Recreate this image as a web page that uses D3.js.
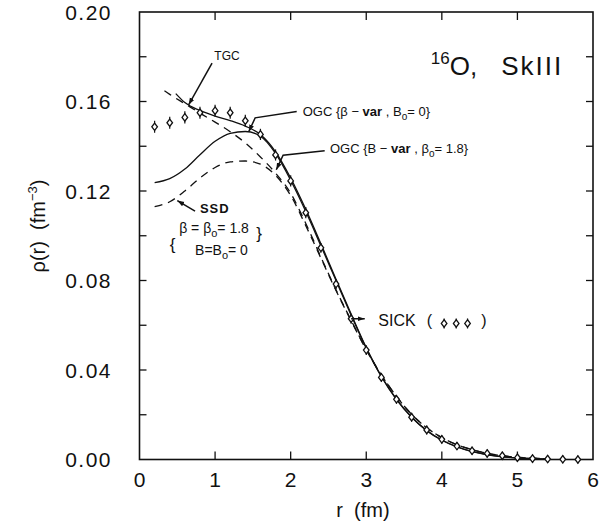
<!DOCTYPE html>
<html><head><meta charset="utf-8">
<script src="https://cdn.jsdelivr.net/npm/d3@7"></script>
<style>
body{margin:0;background:#fff;}
text{font-family:"Liberation Sans",Arial,sans-serif;fill:#111;}
</style></head><body>
<svg id="c" width="601" height="531"></svg>
<script>
// ---- data ----
const xTicks = [0,1,2,3,4,5,6];
const yTickLabels = [0.00,0.04,0.08,0.12,0.16,0.20];
const yMinorTicks = [0.02,0.04,0.06,0.08,0.10,0.12,0.14,0.16,0.18];

const sickR   = [0.2,0.4,0.6,0.8,1.0,1.2,1.4,1.6,1.8,2.0,2.2,2.4,2.6,2.8,3.0,3.2,3.4,3.6,3.8,4.0,4.2,4.4,4.6,4.8,5.0,5.2,5.4,5.6,5.8];
const sickRho = [0.1487,0.1505,0.1529,0.1550,0.1559,0.1550,0.1514,0.1453,0.1361,0.1245,0.1103,0.0946,0.0784,0.0629,0.0489,0.0367,0.0269,0.0189,0.0132,0.0090,0.0060,0.0039,0.0027,0.0017,0.0008,0.0004,0.0002,0.0001,0.0000];
const sickErr = [0.0027,0.0027,0.0027,0.0027,0.0027,0.0027,0.0027,0.0025,0.0025,0.0025,0.0025,0.0022,0.0022,0.0022,0.0022,0.0020,0.0020,0.0020,0.0020,0.0018,0.0018,0.0018,0.0018,0.0018,0.0018,0.0018,0.0018,0.0018,0.0018];

const tgcR   = [0.48,0.6,0.8,1.0,1.2,1.4,1.6,1.8,2.0,2.2,2.4,2.6,2.8,3.0,3.2,3.4,3.6,3.8,4.0,4.2,4.4,4.6,4.8,5.0,5.2,5.4];
const tgcRho = [0.1635,0.1595,0.1560,0.1535,0.1515,0.1490,0.1452,0.1375,0.1258,0.1118,0.0964,0.0806,0.0650,0.0500,0.0372,0.0270,0.0190,0.0130,0.0087,0.0057,0.0036,0.0022,0.0013,0.0007,0.0004,0.0002];

const ogcBetaR   = [0.2,0.4,0.6,0.8,1.0,1.2,1.4,1.6,1.8,2.0,2.2,2.4,2.6,2.8,3.0,3.2,3.4,3.6,3.8,4.0,4.2,4.4,4.6,4.8,5.0,5.2,5.4];
const ogcBetaRho = [0.1237,0.1255,0.1298,0.1362,0.1422,0.1458,0.1466,0.1445,0.1368,0.1248,0.1108,0.0955,0.0800,0.0645,0.0497,0.0370,0.0268,0.0189,0.0129,0.0086,0.0056,0.0035,0.0021,0.0012,0.0007,0.0004,0.0002];

const ogcBR   = [0.33,0.4,0.6,0.8,1.0,1.2,1.4,1.6,1.8,2.0,2.2,2.4,2.6,2.8,3.0,3.2,3.4,3.6,3.8,4.0,4.2,4.4,4.6,4.8,5.0,5.2,5.4];
const ogcBRho = [0.1648,0.1632,0.1590,0.1548,0.1508,0.1465,0.1415,0.1352,0.1280,0.1190,0.1055,0.0905,0.0758,0.0622,0.0492,0.0378,0.0282,0.0202,0.0142,0.0098,0.0066,0.0044,0.0028,0.0017,0.0010,0.0006,0.0003];

const ssdR   = [0.2,0.4,0.6,0.8,1.0,1.2,1.4,1.6,1.8,2.0,2.2,2.4,2.6,2.8,3.0,3.2,3.4,3.6,3.8,4.0,4.2,4.4,4.6,4.8,5.0,5.2,5.4];
const ssdRho = [0.1130,0.1152,0.1200,0.1258,0.1305,0.1330,0.1334,0.1320,0.1270,0.1180,0.1045,0.0900,0.0755,0.0620,0.0490,0.0378,0.0282,0.0202,0.0142,0.0098,0.0066,0.0044,0.0028,0.0017,0.0010,0.0006,0.0003];

// ---- layout ----
const svg = d3.select("#c");
const L = 139.5, R = 593, T = 12, B = 459.5;
const x = d3.scaleLinear().domain([0,6]).range([L,R]);
const y = d3.scaleLinear().domain([0,0.20]).range([B,T]);

svg.append("defs").append("marker")
  .attr("id","ah").attr("viewBox","0 0 10 10").attr("refX",10).attr("refY",5)
  .attr("markerWidth",7).attr("markerHeight",7).attr("markerUnits","userSpaceOnUse")
  .attr("orient","auto")
  .append("path").attr("d","M0,1.5 L10,5 L0,8.5 Z").attr("fill","#111");

// frame
svg.append("rect").attr("x",L).attr("y",T).attr("width",R-L).attr("height",B-T)
  .attr("fill","none").attr("stroke","#111").attr("stroke-width",1.6);

// ticks
const g = svg.append("g").attr("stroke","#111").attr("stroke-width",1.3);
xTicks.slice(1,-1).forEach(v=>{
  g.append("line").attr("x1",x(v)).attr("x2",x(v)).attr("y1",B).attr("y2",B-8);
  g.append("line").attr("x1",x(v)).attr("x2",x(v)).attr("y1",T).attr("y2",T+8);
});
yMinorTicks.forEach(v=>{
  g.append("line").attr("x1",L).attr("x2",L+7).attr("y1",y(v)).attr("y2",y(v));
  g.append("line").attr("x1",R).attr("x2",R-7).attr("y1",y(v)).attr("y2",y(v));
});

// tick labels
xTicks.forEach(v=>{
  svg.append("text").attr("x",x(v)).attr("y",487).attr("text-anchor","middle")
    .attr("font-size",21).text(d3.format("d")(v));
});
yTickLabels.forEach(v=>{
  svg.append("text").attr("x",112).attr("y",y(v)+7.5).attr("text-anchor","end")
    .attr("font-size",21).attr("letter-spacing",1.5).text(d3.format(".2f")(v));
});

// axis titles
svg.append("text").attr("x",363).attr("y",517).attr("text-anchor","middle")
  .attr("font-size",20).attr("xml:space","preserve").text("r  (fm)");
const yl = svg.append("text").attr("transform","translate(45,226) rotate(-90)")
  .attr("text-anchor","middle").attr("font-size",20).attr("xml:space","preserve");
yl.append("tspan").text("ρ(r)  (fm");
yl.append("tspan").attr("font-size",13).attr("dy",-8).text("−3");
yl.append("tspan").attr("dy",8).text(")");

// curves
const line = d3.line().x(d=>x(d[0])).y(d=>y(d[1])).curve(d3.curveMonotoneX);
const zip = (a,b)=>a.map((v,i)=>[v,b[i]]);
const curves = [
  {r:tgcR, v:tgcRho, dash:null},
  {r:ogcBetaR, v:ogcBetaRho, dash:null},
  {r:ogcBR, v:ogcBRho, dash:"8,6"},
  {r:ssdR, v:ssdRho, dash:"8,6"}
];
curves.forEach(c=>{
  svg.append("path").attr("d",line(zip(c.r,c.v))).attr("fill","none")
    .attr("stroke","#111").attr("stroke-width",1.3)
    .attr("stroke-dasharray",c.dash);
});

// SICK data points
function diamond(gx,cx,cy,e){
  gx.append("line").attr("x1",cx).attr("x2",cx).attr("y1",cy-e).attr("y2",cy+e)
    .attr("stroke","#111").attr("stroke-width",1.2);
  gx.append("path").attr("d",`M${cx},${cy-3.7} L${cx+2.8},${cy} L${cx},${cy+3.7} L${cx-2.8},${cy} Z`)
    .attr("fill","#fff").attr("stroke","#111").attr("stroke-width",1.3);
}
const pg = svg.append("g");
sickR.forEach((r,i)=>{
  const cy = y(sickRho[i]);
  const e = Math.abs(y(sickRho[i]+sickErr[i]) - cy);
  diamond(pg, x(r), cy, e);
});

// annotations
function arrow(pts){
  svg.append("path").attr("d",d3.line()(pts.map(p=>[x(p[0]),y(p[1])])))
    .attr("fill","none").attr("stroke","#111").attr("stroke-width",1.5)
    .attr("marker-end","url(#ah)");
}
// title
const tt = svg.append("text").attr("x",x(3.855)).attr("y",y(0.1718)).attr("font-size",26);
tt.append("tspan").attr("font-size",17).attr("dy",-11).text("16");
tt.append("tspan").attr("dy",11).text("O,");
tt.append("tspan").attr("dx",24).attr("letter-spacing",2).text("SkIII");

// TGC
svg.append("text").attr("x",x(0.99)).attr("y",y(0.1785)).attr("font-size",12).text("TGC");
arrow([[0.96,0.1772],[0.65,0.1585]]);

// OGC beta-var
const t1 = svg.append("text").attr("x",x(2.16)).attr("y",y(0.1535)).attr("font-size",13);
t1.append("tspan").text("OGC {β − ");
t1.append("tspan").attr("font-weight","bold").text("var");
t1.append("tspan").text(" , B");
t1.append("tspan").attr("font-size",10).attr("dy",4).text("o");
t1.append("tspan").attr("dy",-4).text("= 0}");
arrow([[2.08,0.1555],[1.53,0.1527],[1.445,0.1465]]);

// OGC B-var
const t2 = svg.append("text").attr("x",x(2.52)).attr("y",y(0.137)).attr("font-size",13);
t2.append("tspan").text("OGC {B − ");
t2.append("tspan").attr("font-weight","bold").text("var");
t2.append("tspan").text(" , β");
t2.append("tspan").attr("font-size",10).attr("dy",4).text("o");
t2.append("tspan").attr("dy",-4).text("= 1.8}");
arrow([[2.45,0.1380],[1.90,0.1360],[1.81,0.1295]]);

// SSD
svg.append("text").attr("x",x(0.80)).attr("y",y(0.1102)).attr("font-size",13)
  .attr("font-weight","bold").attr("letter-spacing",1).text("SSD");
arrow([[0.735,0.1110],[0.50,0.1157]]);
const s1 = svg.append("text").attr("x",x(0.525)).attr("y",y(0.1013)).attr("font-size",14);
s1.append("tspan").text("β = β");
s1.append("tspan").attr("font-size",11).attr("dy",4).text("o");
s1.append("tspan").attr("dy",-4).text("= 1.8");
const s2 = svg.append("text").attr("x",x(0.735)).attr("y",y(0.0915)).attr("font-size",14);
s2.append("tspan").text("B=B");
s2.append("tspan").attr("font-size",11).attr("dy",4).text("o");
s2.append("tspan").attr("dy",-4).text("= 0");
svg.append("text").attr("x",x(0.40)).attr("y",y(0.0935)).attr("font-size",17).text("{");
svg.append("text").attr("x",x(1.545)).attr("y",y(0.0985)).attr("font-size",17).text("}");

// SICK label
arrow([[2.8,0.0629],[2.98,0.0629]]);
svg.append("text").attr("x",x(3.16)).attr("y",y(0.0598)).attr("font-size",16).text("SICK");
svg.append("text").attr("x",x(3.80)).attr("y",y(0.0598)).attr("font-size",16).text("(");
svg.append("text").attr("x",x(4.52)).attr("y",y(0.0598)).attr("font-size",16).text(")");
const lg = svg.append("g");
[4.03,4.19,4.34].forEach(r=>diamond(lg, x(r), y(0.0608), 5));
</script>
</body></html>
